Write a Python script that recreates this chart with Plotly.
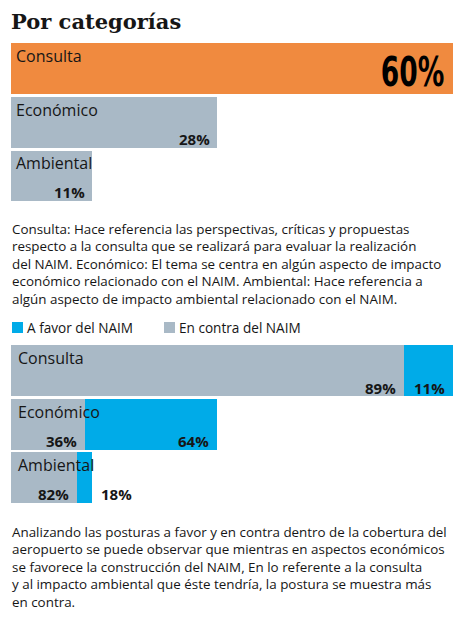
import plotly.graph_objects as go

# ---------------- data ----------------
categories = ["Consulta", "Económico", "Ambiental"]
share = [60, 28, 11]            # % of coverage by category
contra = [89, 36, 82]           # % en contra del NAIM within each category
favor = [11, 64, 18]            # % a favor del NAIM within each category
legend_labels = ["A favor del NAIM", "En contra del NAIM"]

title_text = "Por categorías"
note_lines = [
    "Consulta: Hace referencia las perspectivas, críticas y propuestas",
    "respecto a la consulta que se realizará para evaluar la realización",
    "del NAIM. Económico: El tema se centra en algún aspecto de impacto",
    "económico relacionado con el NAIM. Ambiental: Hace referencia a",
    "algún aspecto de impacto ambiental relacionado con el NAIM.",
]
foot_lines = [
    "Analizando las posturas a favor y en contra dentro de la cobertura del",
    "aeropuerto se puede observar que mientras en aspectos económicos",
    "se favorece la construcción del NAIM, En lo referente a la consulta",
    "y al impacto ambiental que éste tendría, la postura se muestra más",
    "en contra.",
]

# ---------------- style ----------------
W, H = 464, 620
ORANGE = "#F08A3F"
GRAY = "#A9B9C6"
BLUE = "#00ABE8"
INK = "#161616"
SANS = "Open Sans"
COND = "DejaVu Sans Condensed, Roboto Condensed, sans-serif"
X0, X1 = 11, 453          # plot left/right in px
XMAX = max(share)


def py(p):
    return 1 - p / H


def px(p):
    return p / W


fig = go.Figure()

# top chart: share by category
fig.add_trace(go.Bar(
    x=share, y=categories, orientation="h", width=0.95,
    marker=dict(color=[ORANGE] + [GRAY] * (len(share) - 1), line=dict(width=0)),
    xaxis="x", yaxis="y", showlegend=False, hoverinfo="skip"))

# bottom chart: stacked en contra / a favor, scaled to category share
contra_len = [s * c / 100 for s, c in zip(share, contra)]
favor_len = [s * f / 100 for s, f in zip(share, favor)]
fig.add_trace(go.Bar(
    x=contra_len, y=categories, orientation="h", width=0.95,
    marker=dict(color=GRAY, line=dict(width=0)),
    xaxis="x2", yaxis="y2", showlegend=False, hoverinfo="skip"))
fig.add_trace(go.Bar(
    x=favor_len, y=categories, orientation="h", width=0.95,
    marker=dict(color=BLUE, line=dict(width=0)),
    xaxis="x2", yaxis="y2", showlegend=False, hoverinfo="skip"))

ann = []
# title
ann.append(dict(text=title_text, xref="paper", yref="paper", x=px(9), y=py(21),
                xanchor="left", yanchor="middle", showarrow=False,
                font=dict(family="DejaVu Serif", size=21, weight="bold", color=INK)))

# top chart labels
for i, (cat, s) in enumerate(zip(categories, share)):
    ann.append(dict(text=cat, x=0, y=cat, xref="x", yref="y", xanchor="left",
                    yanchor="middle", xshift=3, yshift=12, showarrow=False,
                    font=dict(family=SANS, size=16, color=INK)))
    if i == 0:
        ann.append(dict(text=f"{s}%", x=s, y=cat, xref="x", yref="y", xanchor="right",
                        yanchor="middle", xshift=-7, yshift=-4, showarrow=False,
                        font=dict(family=COND, size=41, weight="bold", color="#000")))
    else:
        ann.append(dict(text=f"{s}%", x=s, y=cat, xref="x", yref="y", xanchor="right",
                        yanchor="middle", xshift=-5, yshift=-17, showarrow=False,
                        font=dict(family=SANS, size=15, weight="bold", color=INK)))

# bottom chart labels
scale_px = (X1 - X0) / XMAX
for cat, c, f, cl, fl in zip(categories, contra, favor, contra_len, favor_len):
    ann.append(dict(text=cat, x=0, y=cat, xref="x2", yref="y2", xanchor="left",
                    yanchor="middle", xshift=5, yshift=12.5, showarrow=False,
                    font=dict(family=SANS, size=16, color=INK)))
    ann.append(dict(text=f"{c}%", x=cl, y=cat, xref="x2", yref="y2", xanchor="right",
                    yanchor="middle", xshift=-6, yshift=-17, showarrow=False,
                    font=dict(family=SANS, size=15, weight="bold", color=INK)))
    inside = fl * scale_px > 36
    ann.append(dict(text=f"{f}%", x=cl + fl, y=cat, xref="x2", yref="y2",
                    xanchor="right" if inside else "left",
                    yanchor="middle", xshift=-6 if inside else 7, yshift=-17,
                    showarrow=False,
                    font=dict(family=SANS, size=15, weight="bold", color=INK)))

# paragraphs
ann.append(dict(text="<br>".join(note_lines), xref="paper", yref="paper", x=px(10),
                y=py(264), xanchor="left", yanchor="middle", align="left",
                showarrow=False, font=dict(family=SANS, size=13.4, color=INK)))
ann.append(dict(text="<br>".join(foot_lines), xref="paper", yref="paper", x=px(10),
                y=py(566.5), xanchor="left", yanchor="middle", align="left",
                showarrow=False, font=dict(family=SANS, size=13.4, color=INK)))

# legend (manual)
shapes = []
leg_colors = [BLUE, GRAY]
leg_x = [12, 164]
for lab, col, lx in zip(legend_labels, leg_colors, leg_x):
    shapes.append(dict(type="rect", xref="paper", yref="paper",
                       x0=px(lx), x1=px(lx + 11), y0=py(333), y1=py(322),
                       fillcolor=col, line=dict(width=0)))
    ann.append(dict(text=lab, xref="paper", yref="paper", x=px(lx + 13), y=py(327),
                    xanchor="left", yanchor="middle", showarrow=False,
                    font=dict(family=SANS, size=13.6, color=INK)))

axis_common = dict(visible=False, fixedrange=True)
fig.update_layout(
    width=W, height=H, margin=dict(l=0, r=0, t=0, b=0),
    paper_bgcolor="white", plot_bgcolor="rgba(0,0,0,0)",
    barmode="stack", bargap=0, showlegend=False,
    xaxis=dict(domain=[px(X0), px(X1)], range=[0, XMAX], anchor="y", **axis_common),
    yaxis=dict(domain=[py(202.3), py(41.5)], categoryorder="array",
               categoryarray=categories, range=[2.5, -0.5], anchor="x", **axis_common),
    xaxis2=dict(domain=[px(X0), px(X1)], range=[0, XMAX], anchor="y2", **axis_common),
    yaxis2=dict(domain=[py(504.2), py(343.8)], categoryorder="array",
                categoryarray=categories, range=[2.5, -0.5], anchor="x2", **axis_common),
    annotations=ann, shapes=shapes,
)

# condense the big headline percentage horizontally (no condensed bold font installed)
post = """
document.body.style.margin='0';
var gd = document.querySelector('.js-plotly-plot');
function squeeze(){
  document.querySelectorAll('g.annotation text').forEach(function(t){
    if (t.textContent === '60%') {
      var b = t.getBBox(); var r = b.x + b.width; var k = 0.72;
      t.setAttribute('transform', 'translate(' + (r * (1 - k)) + ',0) scale(' + k + ',1)');
    }
  });
}
squeeze();
if (gd && gd.on) { gd.on('plotly_afterplot', squeeze); }
"""
fig.write_html("out.html", config={"displayModeBar": False}, post_script=post)
